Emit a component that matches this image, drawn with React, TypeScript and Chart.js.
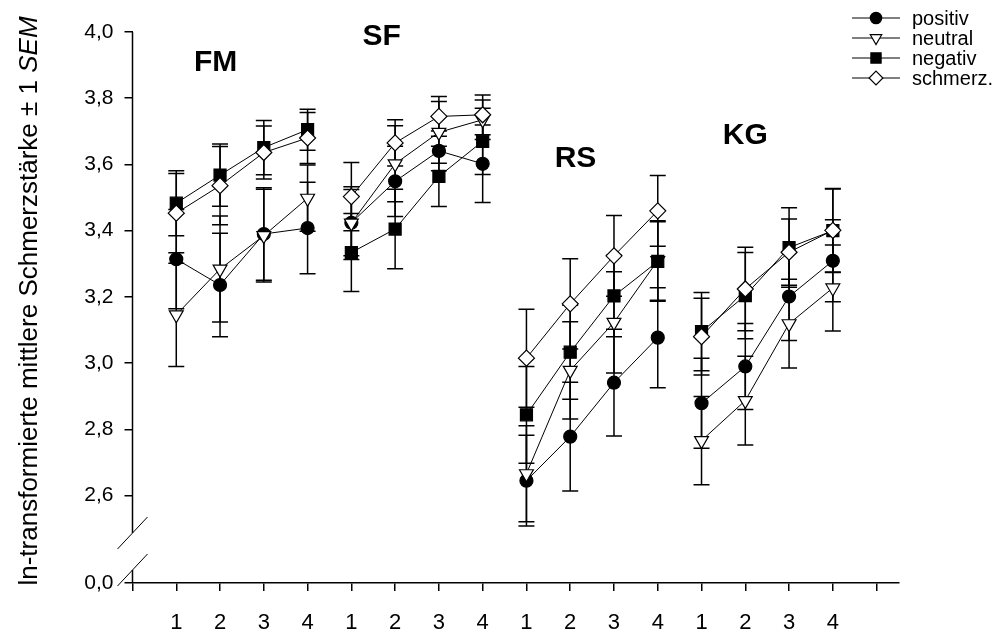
import React, { useEffect, useRef } from 'react';
import { Chart, registerables } from 'chart.js';

Chart.register(...registerables);

// ---- data ----
const groups = ['FM', 'SF', 'RS', 'KG'];
const sessions = ['1', '2', '3', '4'];
const seriesNames = ['positiv', 'neutral', 'negativ', 'schmerz.'];

const positiv = [3.314, 3.236, 3.39, 3.408, 3.424, 3.549, 3.641, 3.602, 2.645, 2.778, 2.941, 3.077, 2.879, 2.99, 3.201, 3.309];
const positivSem = [0.15, 0.156, 0.14, 0.138, 0.1, 0.106, 0.06, 0.117, 0.137, 0.164, 0.161, 0.151, 0.136, 0.13, 0.133, 0.124];

const neutral = [3.146, 3.284, 3.385, 3.498, 3.423, 3.602, 3.697, 3.735, 2.666, 2.978, 3.123, 3.31, 2.766, 2.887, 3.119, 3.227];
const neutralSem = [0.156, 0.16, 0.14, 0.1, 0.11, 0.115, 0.093, 0.06, 0.145, 0.147, 0.153, 0.12, 0.133, 0.134, 0.134, 0.13];

const negativ = [3.483, 3.568, 3.651, 3.705, 3.334, 3.405, 3.564, 3.67, 2.844, 3.033, 3.203, 3.307, 3.095, 3.204, 3.349, 3.4];
const negativSem = [0.098, 0.094, 0.082, 0.062, 0.118, 0.12, 0.091, 0.1, 0.146, 0.142, 0.123, 0.12, 0.118, 0.13, 0.12, 0.126];

const schmerz = [3.453, 3.536, 3.636, 3.68, 3.503, 3.665, 3.745, 3.75, 3.015, 3.179, 3.324, 3.46, 3.08, 3.224, 3.335, 3.401];
const schmerzSem = [0.12, 0.118, 0.08, 0.077, 0.103, 0.07, 0.06, 0.06, 0.148, 0.136, 0.122, 0.107, 0.116, 0.126, 0.1, 0.126];

const yTickValues = [2.6, 2.8, 3.0, 3.2, 3.4, 3.6, 3.8, 4.0];
const yBreakLabel = '0,0';
const Y_MIN = 2.336;
const Y_MAX = 4.0;
const X_MAX = 17.5;

// group label anchor (data units)
const groupLabelX = [1.9, 5.69, 10.12, 14.0];
const groupLabelY = [3.907, 3.985, 3.617, 3.686];

const FONT = '"Liberation Sans", Arial, Helvetica, sans-serif';

const values = [positiv, neutral, negativ, schmerz];
const sems = [positivSem, neutralSem, negativSem, schmerzSem];

function buildData(vals: number[]) {
  const out: { x: number; y: number | null }[] = [];
  groups.forEach((_, g) => {
    sessions.forEach((_, s) => {
      const i = g * sessions.length + s;
      out.push({ x: i + 1, y: vals[i] });
    });
    if (g < groups.length - 1) out.push({ x: (g + 1) * sessions.length + 0.5, y: null });
  });
  return out;
}

type Style = { shape: string; fill: string };
const styles: Style[] = [
  { shape: 'circle', fill: '#000' },
  { shape: 'triangleDown', fill: '#fff' },
  { shape: 'square', fill: '#000' },
  { shape: 'diamond', fill: '#fff' },
];

function drawMarker(ctx: CanvasRenderingContext2D, shape: string, fill: string, x: number, y: number, s: number) {
  ctx.save();
  ctx.beginPath();
  if (shape === 'circle') {
    ctx.arc(x, y, s * 0.95, 0, Math.PI * 2);
  } else if (shape === 'triangleDown') {
    const r = s * 1.1;
    ctx.moveTo(x - r * 0.866, y - r * 0.5);
    ctx.lineTo(x + r * 0.866, y - r * 0.5);
    ctx.lineTo(x, y + r);
    ctx.closePath();
  } else if (shape === 'square') {
    ctx.rect(x - s * 0.85, y - s * 0.85, s * 1.7, s * 1.7);
  } else {
    const r = s * 1.15;
    ctx.moveTo(x, y - r);
    ctx.lineTo(x + r, y);
    ctx.lineTo(x, y + r);
    ctx.lineTo(x - r, y);
    ctx.closePath();
  }
  ctx.fillStyle = fill;
  ctx.fill();
  ctx.lineWidth = 1.2;
  ctx.strokeStyle = '#000';
  ctx.stroke();
  ctx.restore();
}

const decorPlugin = {
  id: 'decor',
  beforeDatasetsDraw(chart: any) {
    const { ctx } = chart;
    const xs = chart.scales.x;
    const ys = chart.scales.y;
    ctx.save();
    ctx.strokeStyle = '#000';
    ctx.lineWidth = 1.5;
    values.forEach((vals, si) => {
      vals.forEach((v, i) => {
        const px = xs.getPixelForValue(i + 1);
        const top = ys.getPixelForValue(v + sems[si][i]);
        const bot = ys.getPixelForValue(v - sems[si][i]);
        ctx.beginPath();
        ctx.moveTo(px, top);
        ctx.lineTo(px, bot);
        ctx.moveTo(px - 8, top);
        ctx.lineTo(px + 8, top);
        ctx.moveTo(px - 8, bot);
        ctx.lineTo(px + 8, bot);
        ctx.stroke();
      });
    });
    ctx.restore();
  },
  afterDraw(chart: any) {
    const { ctx, chartArea } = chart;
    const xs = chart.scales.x;
    const ys = chart.scales.y;
    const ax = chartArea.left;
    const bottom = chartArea.bottom;
    ctx.save();
    ctx.strokeStyle = '#000';
    ctx.lineWidth = 1.5;
    // broken y axis
    const upC = bottom - 50;
    const loC = bottom - 13;
    ctx.beginPath();
    ctx.moveTo(ax, chartArea.top);
    ctx.lineTo(ax, upC);
    ctx.moveTo(ax, loC);
    ctx.lineTo(ax, bottom);
    ctx.stroke();
    ctx.lineWidth = 1;
    ctx.beginPath();
    ctx.moveTo(ax - 15, upC + 16);
    ctx.lineTo(ax + 15, upC - 16);
    ctx.moveTo(ax - 15, loC + 16);
    ctx.lineTo(ax + 15, loC - 16);
    ctx.stroke();

    // group labels
    ctx.fillStyle = '#000';
    ctx.font = `bold 30px ${FONT}`;
    ctx.textAlign = 'center';
    ctx.textBaseline = 'middle';
    groups.forEach((g, i) => {
      ctx.fillText(g, xs.getPixelForValue(groupLabelX[i]), ys.getPixelForValue(groupLabelY[i]));
    });

    // legend
    const lx0 = 852, lx1 = 900, mx = 876, tx = 912;
    const rows = [18, 38, 58, 78];
    ctx.font = `20px ${FONT}`;
    ctx.textAlign = 'left';
    seriesNames.forEach((name, i) => {
      const y = rows[i];
      ctx.lineWidth = 1;
      ctx.beginPath();
      ctx.moveTo(lx0, y);
      ctx.lineTo(lx1, y);
      ctx.stroke();
      drawMarker(ctx, styles[i].shape, styles[i].fill, mx, y, 6);
      ctx.fillStyle = '#000';
      ctx.fillText(name, tx, y + 1);
    });

    // y-axis title (rotated, SEM italic)
    const t1 = 'ln-transformierte mittlere Schmerzstärke \u00B1 1 ';
    const t2 = 'SEM';
    ctx.font = `26px ${FONT}`;
    const w1 = ctx.measureText(t1).width;
    ctx.font = `italic 26px ${FONT}`;
    const w2 = ctx.measureText(t2).width;
    const total = w1 + w2;
    ctx.translate(37, 301);
    ctx.rotate(-Math.PI / 2);
    ctx.textBaseline = 'alphabetic';
    ctx.font = `26px ${FONT}`;
    ctx.fillText(t1, -total / 2, 0);
    ctx.font = `italic 26px ${FONT}`;
    ctx.fillText(t2, -total / 2 + w1, 0);
    ctx.restore();
  },
};

export default function App() {
  const ref = useRef<HTMLCanvasElement | null>(null);
  useEffect(() => {
    if (!ref.current) return;
    const ds = (i: number, pointStyle: string, radius: number, fill: string, rotation = 0) => ({
      label: seriesNames[i],
      data: buildData(values[i]),
      borderColor: '#000',
      borderWidth: 1,
      pointStyle,
      pointRotation: rotation,
      pointRadius: radius,
      pointBackgroundColor: fill,
      pointBorderColor: '#000',
      pointBorderWidth: 1.2,
      spanGaps: false,
      order: 3 - i,
      fill: false,
      tension: 0,
    });
    const chart = new Chart(ref.current, {
      type: 'line',
      data: {
        datasets: [
          ds(0, 'circle', 6.5, '#000'),
          ds(1, 'triangle', 8, '#fff', 180),
          ds(2, 'rect', 8.5, '#000'),
          ds(3, 'rectRot', 8, '#fff'),
        ] as any,
      },
      options: {
        responsive: false,
        animation: false,
        events: [],
        layout: { padding: { left: 0, top: 32, right: 101.5, bottom: 0 } },
        plugins: { legend: { display: false }, tooltip: { enabled: false }, title: { display: false } },
        scales: {
          x: {
            type: 'linear',
            min: 0,
            max: X_MAX,
            afterBuildTicks: (scale: any) => {
              scale.ticks = Array.from({ length: 18 }, (_, k) => ({ value: k }));
            },
            afterFit: (scale: any) => {
              scale.height = 61;
            },
            ticks: {
              autoSkip: false,
              maxRotation: 0,
              padding: 19,
              color: '#000',
              font: { family: FONT, size: 22 },
              callback: (v: any) => (v >= 1 && v <= 16 ? sessions[(v - 1) % 4] : ''),
            },
            grid: { drawOnChartArea: false, drawTicks: true, tickLength: 8, color: '#000', lineWidth: 1.5 },
            border: { display: true, color: '#000', width: 1.5 },
          },
          y: {
            type: 'linear',
            min: Y_MIN,
            max: Y_MAX,
            afterBuildTicks: (scale: any) => {
              scale.ticks = [Y_MIN, ...yTickValues].map((v) => ({ value: v }));
            },
            afterFit: (scale: any) => {
              scale.width = 132.5;
            },
            ticks: {
              autoSkip: false,
              padding: 11,
              color: '#000',
              font: { family: FONT, size: 21 },
              callback: (v: any) => (Math.abs(v - Y_MIN) < 1e-6 ? yBreakLabel : Number(v).toFixed(1).replace('.', ',')),
            },
            grid: { drawOnChartArea: false, drawTicks: true, tickLength: 8, color: '#000', lineWidth: 1.5 },
            border: { display: false },
          },
        },
      } as any,
      plugins: [decorPlugin],
    });
    return () => chart.destroy();
  }, []);
  return (
    <div style={{ position: 'absolute', left: 0, top: 0, width: 1000, height: 644, background: '#fff' }}>
      <canvas ref={ref} width={1000} height={644} style={{ display: 'block' }} />
    </div>
  );
}
